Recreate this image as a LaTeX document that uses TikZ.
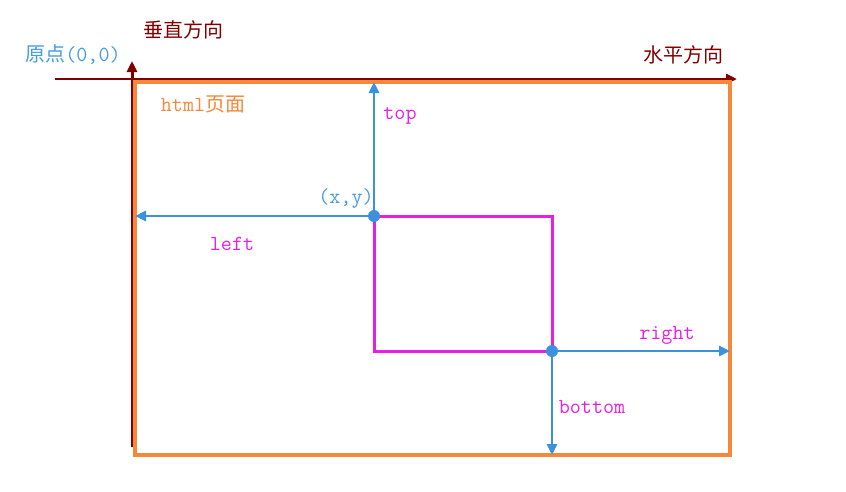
\documentclass[tikz,border=0pt]{standalone}
\usepackage{fontspec}
\usetikzlibrary{arrows.meta}
\newfontfamily\cjk{Noto Sans CJK SC}
\definecolor{axisred}{RGB}{128,0,0}
\definecolor{ptblue}{RGB}{58,145,222}
\definecolor{txtblue}{RGB}{70,155,225}
\definecolor{mag}{RGB}{230,30,230}
\definecolor{pageorange}{RGB}{245,136,58}
\tikzset{
  axis/.style={draw=axisred, line width=3pt, -{Triangle[length=11pt,width=10pt]}},
  measure/.style={draw=ptblue, line width=2.8pt, -{Triangle[length=11pt,width=10pt]}},
  dot/.style={circle, fill=ptblue, inner sep=0pt, minimum size=12pt},
  lbl/.style={inner sep=0pt, font=\ttfamily\fontsize{21.5}{24}\selectfont},
  cjklbl/.style={inner sep=0pt, font=\cjk\fontsize{20}{24}\selectfont},
}
\begin{document}
\begin{tikzpicture}[x=1pt,y=-1pt]
\useasboundingbox (0,0) rectangle (846,491);
% axes
\coordinate (hStart) at (55,79);
\coordinate (hEnd) at (737,79);
\coordinate (vStart) at (132,447);
\coordinate (vEnd) at (132,61);
\draw[draw=axisred, line width=1.2pt] (hStart) -- (132,79);
\draw[axis] (132,79) -- (hEnd);
\draw[axis] (vStart) -- (vEnd);
% page and box
\draw[pageorange, line width=3.5pt] (135,82) coordinate (pNW) rectangle (730,455) coordinate (pSE);
\draw[mag, line width=3pt] (374,216) coordinate (P1) rectangle (552,351) coordinate (P2);
% measurement arrows
\draw[measure] (P1) -- (P1 |- pNW);
\draw[measure] (P1) -- (pNW |- P1);
\draw[measure] (P2) -- (pSE |- P2);
\draw[measure] (P2) -- (P2 |- pSE);
\node[dot] (d1) at (P1) {};
\node[dot] (d2) at (P2) {};
% labels
\node[cjklbl, text=axisred] (vlab) at (183,30) {垂直方向};
\node[cjklbl, text=axisred] (hlab) at (683,55) {水平方向};
\node[inner sep=0pt, text=txtblue] (origin) at (73,55) {{\cjk\fontsize{20}{24}\selectfont 原点}{\ttfamily\fontsize{21.5}{24}\selectfont (0,0)}};
\node[inner sep=0pt, text=pageorange] (html) at (203,104) {{\ttfamily\fontsize{21.5}{24}\selectfont html}{\cjk\fontsize{20}{24}\selectfont 页面}};
\node[lbl, text=mag] (top) at (400,116) {top};
\node[lbl, text=txtblue] (xy) at (346,198) {(x,y)};
\node[lbl, text=mag] (left) at (232,244) {left};
\node[lbl, text=mag] (right) at (667,335) {right};
\node[lbl, text=mag] (bottom) at (592,407) {bottom};
\end{tikzpicture}
\end{document}
